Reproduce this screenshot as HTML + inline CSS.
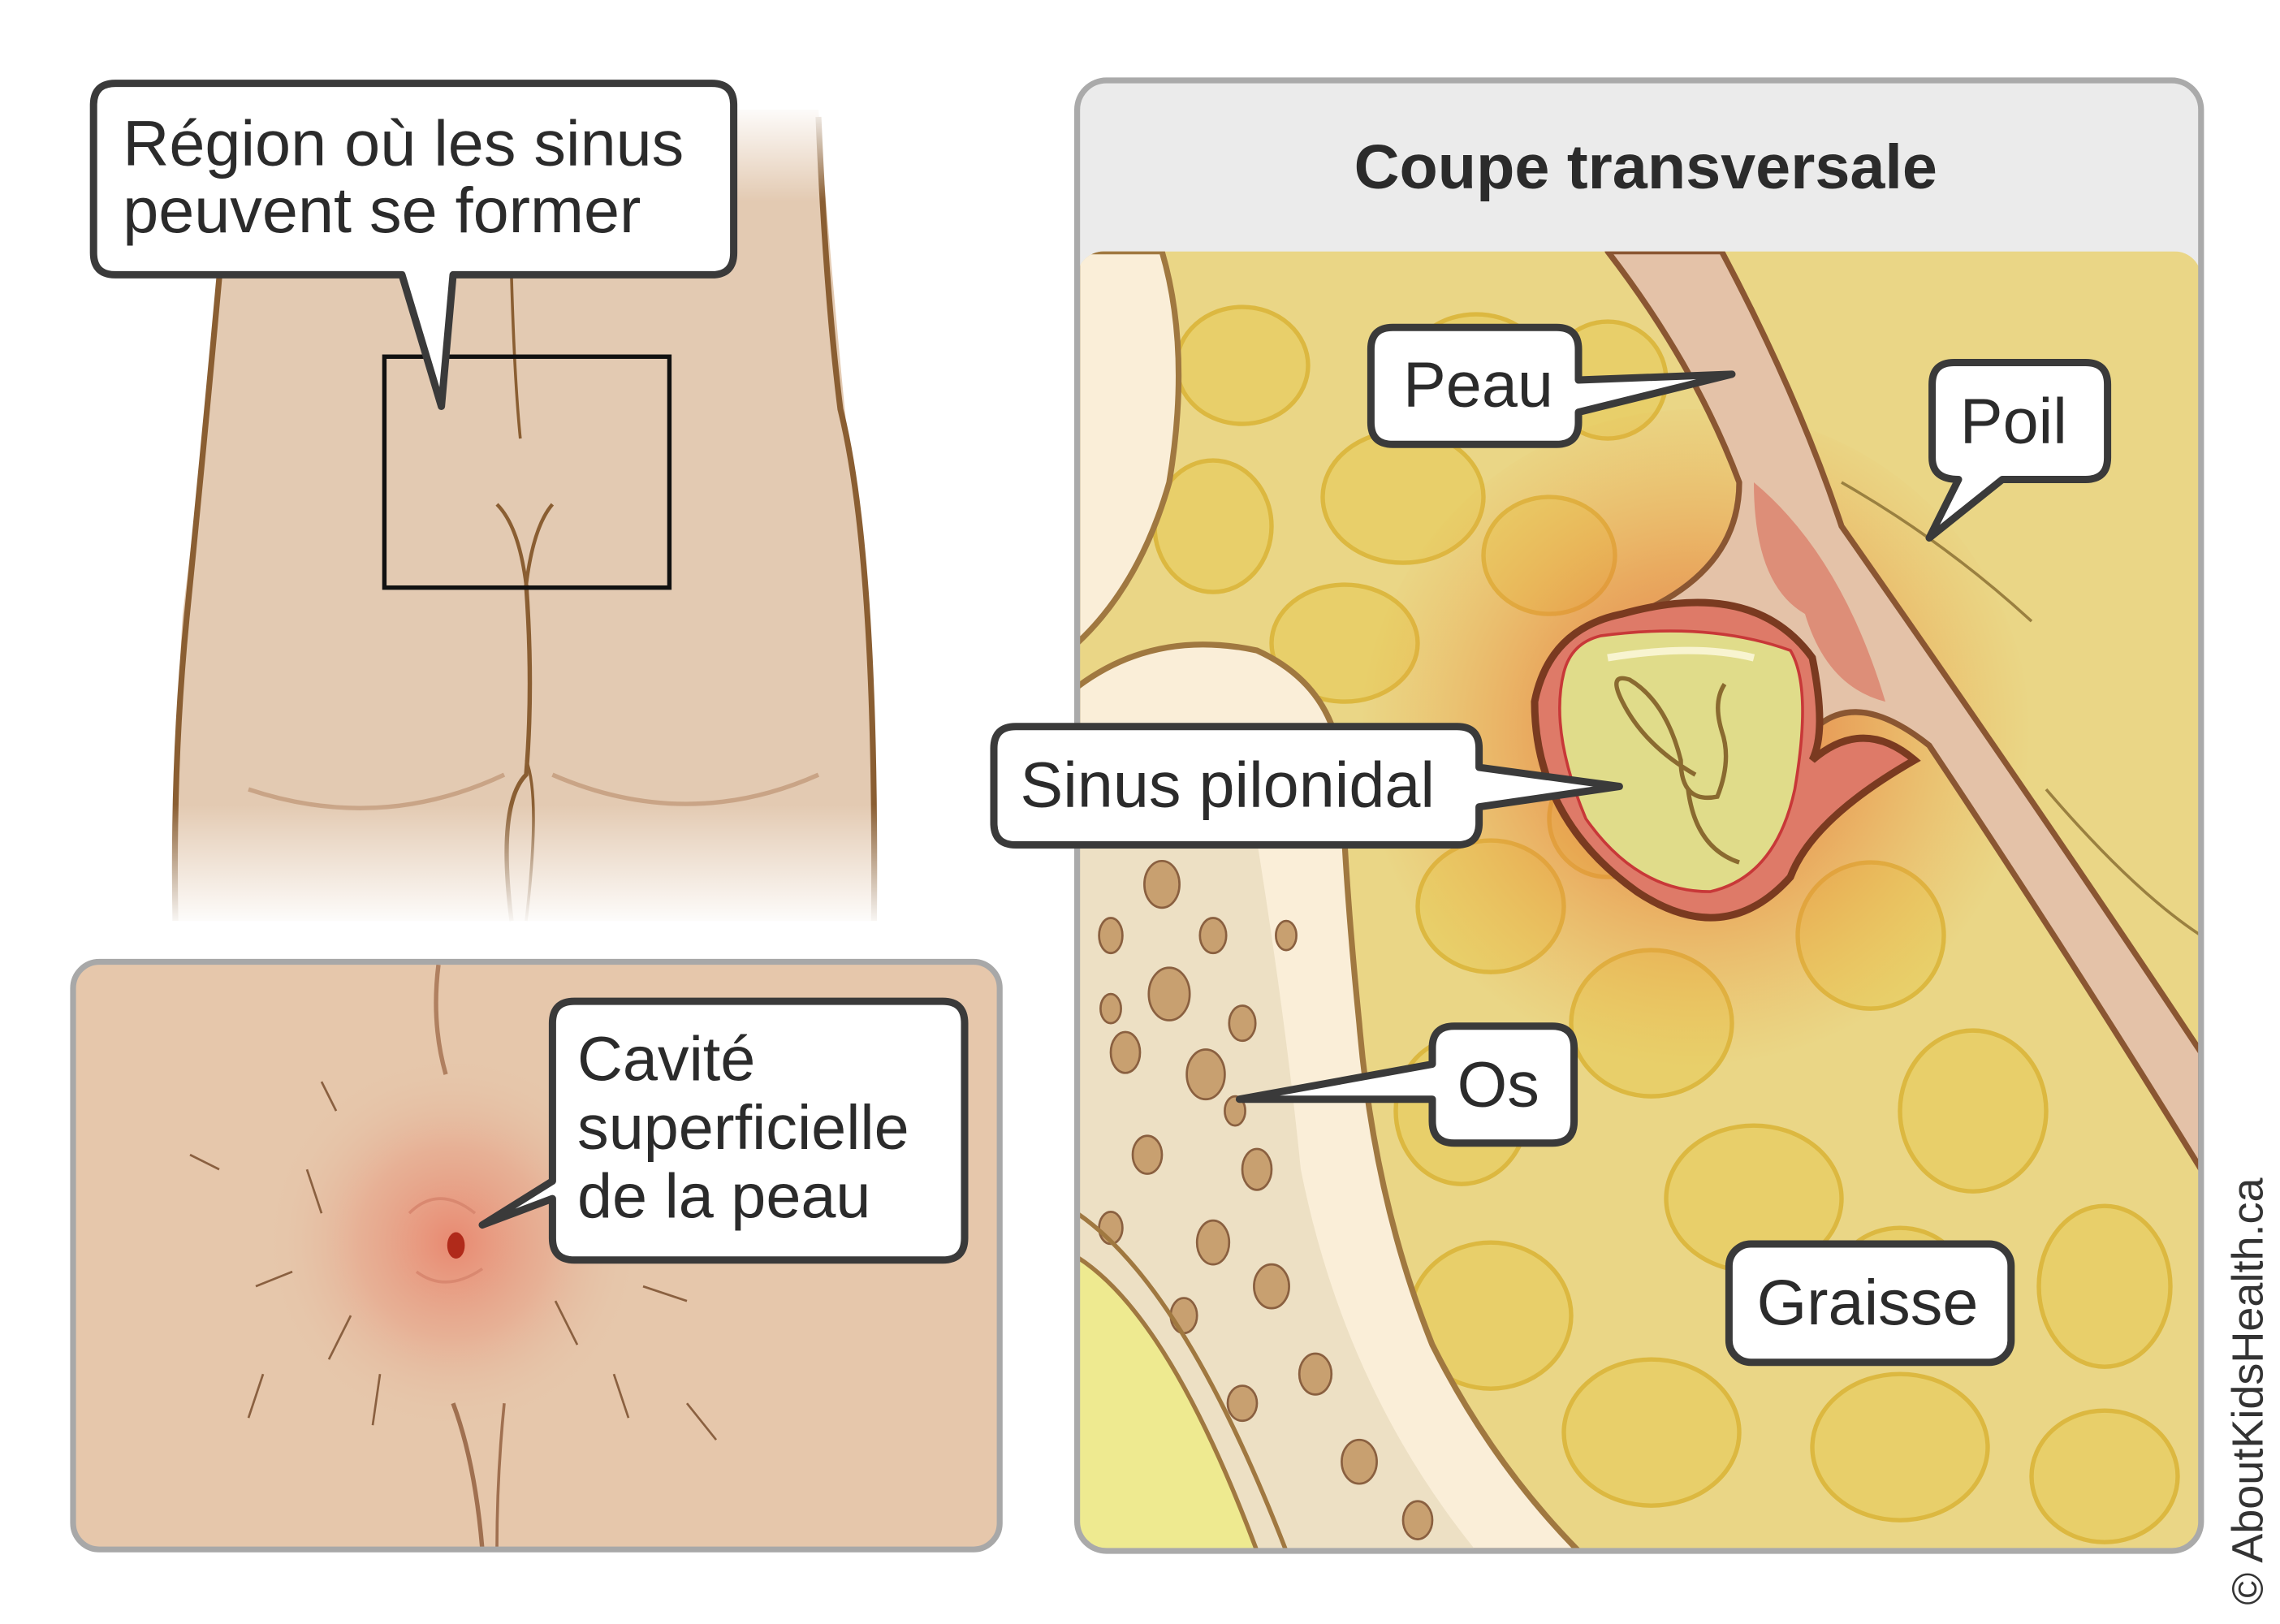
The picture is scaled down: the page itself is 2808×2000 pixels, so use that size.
<!DOCTYPE html>
<html><head><meta charset="utf-8"><style>
html,body{margin:0;padding:0;background:#fff;width:2808px;height:2000px;overflow:hidden}
svg{display:block}
text{font-family:"Liberation Sans",sans-serif;fill:#2b2b2b}
</style></head><body>
<svg width="2808" height="2000" viewBox="0 0 1560 1111" preserveAspectRatio="none" xmlns="http://www.w3.org/2000/svg">
<defs>
<linearGradient id="fade" x1="0" y1="0" x2="0" y2="1">
<stop offset="0" stop-color="#fff" stop-opacity="1"/>
<stop offset="0.12" stop-color="#fff" stop-opacity="0"/>
<stop offset="0.85" stop-color="#fff" stop-opacity="0"/>
<stop offset="1" stop-color="#fff" stop-opacity="1"/>
</linearGradient>
<radialGradient id="glow1" cx="310" cy="850" r="130" gradientUnits="userSpaceOnUse">
<stop offset="0" stop-color="#e8826a" stop-opacity="0.9"/>
<stop offset="0.5" stop-color="#e89a80" stop-opacity="0.5"/>
<stop offset="1" stop-color="#e6c7ab" stop-opacity="0"/>
</radialGradient>
<radialGradient id="glow2" cx="1160" cy="500" r="230" gradientUnits="userSpaceOnUse">
<stop offset="0" stop-color="#e05a3a" stop-opacity="0.85"/>
<stop offset="0.5" stop-color="#e8803a" stop-opacity="0.5"/>
<stop offset="1" stop-color="#f0a040" stop-opacity="0"/>
</radialGradient>
<clipPath id="rp"><rect x="737" y="172" width="769" height="889" rx="18"/></clipPath>
<clipPath id="bp"><rect x="50" y="658" width="634" height="402" rx="18"/></clipPath>
</defs>

<!-- buttocks -->
<path d="M120 75 L560 75 Q570 200 580 300 Q600 420 600 630 L118 630 Q120 500 125 420 Q140 300 150 190 Z" fill="#e3cab2"/>
<path d="M560 80 Q565 200 575 280 Q600 380 598 630" fill="none" stroke="#8a5e32" stroke-width="4"/>
<path d="M150 190 Q140 300 128 420 Q118 520 120 630" fill="none" stroke="#8a5e32" stroke-width="4"/>
<path d="M350 190 Q352 260 356 300" fill="none" stroke="#8a5e32" stroke-width="2"/>
<path d="M340 345 Q355 360 360 400 Q365 360 378 345" fill="none" stroke="#8a5e32" stroke-width="2.5"/>
<path d="M360 400 Q365 470 360 530 Q340 550 350 630" fill="none" stroke="#8a5e32" stroke-width="3"/>
<path d="M360 520 Q370 545 360 630" fill="none" stroke="#8a5e32" stroke-width="2"/>
<path d="M170 540 Q260 570 345 530" fill="none" stroke="#c9a486" stroke-width="3"/>
<path d="M378 530 Q470 570 560 530" fill="none" stroke="#c9a486" stroke-width="3"/>
<rect x="110" y="70" width="500" height="565" fill="url(#fade)"/>
<rect x="263" y="244" width="195" height="158" fill="none" stroke="#111" stroke-width="3"/>

<!-- callout 1 -->
<path d="M79 57 H487 Q502 57 502 72 V173 Q502 188 487 188 H310 L302 278 L275 188 H79 Q64 188 64 173 V72 Q64 57 79 57 Z" fill="#fff" stroke="#3a3a3a" stroke-width="5" stroke-linejoin="round"/>
<text x="84" y="113" font-size="44">Région où les sinus</text>
<text x="84" y="159" font-size="44">peuvent se former</text>

<!-- bottom-left panel -->
<rect x="50" y="658" width="634" height="402" rx="18" fill="#e6c7ab"/>
<g clip-path="url(#bp)">
<circle cx="310" cy="850" r="130" fill="url(#glow1)"/>
<path d="M300 660 Q295 700 305 735" fill="none" stroke="#b08060" stroke-width="3"/>
<path d="M310 960 Q325 1000 330 1060" fill="none" stroke="#a07050" stroke-width="3"/>
<path d="M345 960 Q340 1010 340 1060" fill="none" stroke="#a07050" stroke-width="2"/>
<ellipse cx="312" cy="852" rx="6" ry="9" fill="#b02a1a"/>
<path d="M280 830 Q300 810 325 830 M285 870 Q305 885 330 868" fill="none" stroke="#d98870" stroke-width="2"/>
<g stroke="#8a6040" stroke-width="1.5">
<line x1="220" y1="830" x2="210" y2="800"/><line x1="240" y1="900" x2="225" y2="930"/><line x1="380" y1="890" x2="395" y2="920"/>
<line x1="400" y1="820" x2="420" y2="800"/><line x1="200" y1="870" x2="175" y2="880"/><line x1="420" y1="940" x2="430" y2="970"/>
<line x1="180" y1="940" x2="170" y2="970"/><line x1="260" y1="940" x2="255" y2="975"/><line x1="230" y1="760" x2="220" y2="740"/>
<line x1="440" y1="880" x2="470" y2="890"/><line x1="150" y1="800" x2="130" y2="790"/><line x1="470" y1="960" x2="490" y2="985"/>
</g>
</g>
<rect x="50" y="658" width="634" height="402" rx="18" fill="none" stroke="#a8a8a8" stroke-width="4"/>

<!-- callout cavité -->
<path d="M393 685 H645 Q660 685 660 700 V847 Q660 862 645 862 H393 Q378 862 378 847 V820 L330 838 L378 808 V700 Q378 685 393 685 Z" fill="#fff" stroke="#3a3a3a" stroke-width="5" stroke-linejoin="round"/>
<text x="395" y="739" font-size="43">Cavité</text>
<text x="395" y="786" font-size="43">superficielle</text>
<text x="395" y="833" font-size="43">de la peau</text>

<!-- right panel -->
<rect x="737" y="55" width="769" height="1006" rx="20" fill="#ebebeb"/>
<g clip-path="url(#rp)">
<rect x="737" y="172" width="769" height="889" fill="#ead686"/>
<g fill="#e8cf6a" stroke="#dcb840" stroke-width="3">
<ellipse cx="850" cy="250" rx="45" ry="40"/><ellipse cx="960" cy="340" rx="55" ry="45"/><ellipse cx="830" cy="360" rx="40" ry="45"/>
<ellipse cx="1060" cy="380" rx="45" ry="40"/><ellipse cx="920" cy="440" rx="50" ry="40"/><ellipse cx="1020" cy="620" rx="50" ry="45"/>
<ellipse cx="1130" cy="700" rx="55" ry="50"/><ellipse cx="1280" cy="640" rx="50" ry="50"/><ellipse cx="1000" cy="760" rx="45" ry="50"/>
<ellipse cx="1200" cy="820" rx="60" ry="50"/><ellipse cx="1350" cy="760" rx="50" ry="55"/><ellipse cx="1020" cy="900" rx="55" ry="50"/>
<ellipse cx="1130" cy="980" rx="60" ry="50"/><ellipse cx="1300" cy="990" rx="60" ry="50"/><ellipse cx="1440" cy="880" rx="45" ry="55"/>
<ellipse cx="1440" cy="1010" rx="50" ry="45"/><ellipse cx="1100" cy="560" rx="40" ry="40"/><ellipse cx="1010" cy="250" rx="45" ry="35"/>
<ellipse cx="1300" cy="880" rx="45" ry="40"/><ellipse cx="1100" cy="260" rx="40" ry="40"/>
</g>
<circle cx="1160" cy="510" r="230" fill="url(#glow2)"/>
<path d="M737 172 H795 Q815 240 800 330 Q780 400 737 440 Z" fill="#faeed8" stroke="#a07840" stroke-width="4"/>
<path d="M737 470 Q790 430 860 445 Q915 470 918 530 Q920 600 930 700 Q940 820 980 920 Q1020 1000 1080 1061 H737 Z" fill="#faeed8" stroke="#a07840" stroke-width="4"/>
<path d="M737 560 Q800 560 860 575 Q880 700 890 800 Q920 950 1010 1061 H737 Z" fill="#ede0c4"/>
<g fill="#c8a070" stroke="#8a6040" stroke-width="1.5">
<ellipse cx="795" cy="605" rx="12" ry="16"/><ellipse cx="760" cy="640" rx="8" ry="12"/><ellipse cx="830" cy="640" rx="9" ry="12"/>
<ellipse cx="800" cy="680" rx="14" ry="18"/><ellipse cx="850" cy="700" rx="9" ry="12"/><ellipse cx="770" cy="720" rx="10" ry="14"/>
<ellipse cx="825" cy="735" rx="13" ry="17"/><ellipse cx="785" cy="790" rx="10" ry="13"/><ellipse cx="860" cy="800" rx="10" ry="14"/>
<ellipse cx="830" cy="850" rx="11" ry="15"/><ellipse cx="870" cy="880" rx="12" ry="15"/><ellipse cx="810" cy="900" rx="9" ry="12"/>
<ellipse cx="900" cy="940" rx="11" ry="14"/><ellipse cx="850" cy="960" rx="10" ry="12"/><ellipse cx="930" cy="1000" rx="12" ry="15"/>
<ellipse cx="970" cy="1040" rx="10" ry="13"/><ellipse cx="760" cy="840" rx="8" ry="11"/><ellipse cx="880" cy="640" rx="7" ry="10"/>
<ellipse cx="760" cy="690" rx="7" ry="10"/><ellipse cx="845" cy="760" rx="7" ry="10"/><ellipse cx="790" cy="960" rx="8" ry="11"/>
</g>
<path d="M737 860 Q800 900 860 1061 H737 Z" fill="#eeea90" stroke="#a07840" stroke-width="3"/>
<path d="M737 830 Q810 880 880 1061" fill="none" stroke="#a07840" stroke-width="3"/>
<path d="M1100 172 H1178 Q1230 270 1260 360 Q1400 560 1506 720 V800 Q1420 660 1320 510 Q1270 470 1240 500 Q1200 420 1120 420 Q1190 390 1190 330 Q1160 250 1100 172 Z" fill="#e4c2a8" stroke="#8a5632" stroke-width="4" stroke-linejoin="round"/>
<path d="M1200 330 Q1260 380 1290 480 Q1250 470 1235 420 Q1200 400 1200 330 Z" fill="#d86a58" opacity="0.6"/>
<path d="M1110 420 Q1200 395 1240 450 Q1250 500 1240 520 Q1275 490 1310 520 Q1240 560 1225 600 Q1180 650 1120 610 Q1050 560 1050 480 Q1060 430 1110 420 Z" fill="#de7a68" stroke="#7a3a20" stroke-width="5"/>
<path d="M1095 435 Q1170 425 1225 445 Q1240 470 1228 540 Q1215 600 1170 610 Q1120 610 1085 560 Q1060 500 1070 460 Q1075 440 1095 435 Z" fill="#e0dc8a" stroke="#c83838" stroke-width="2"/>
<path d="M1100 450 Q1160 440 1200 450" stroke="#f8f4d0" stroke-width="5" fill="none"/>
<path d="M1160 530 Q1125 510 1110 480 Q1100 460 1115 465 Q1140 480 1150 520 Q1150 550 1175 545 Q1185 520 1178 500 Q1172 480 1180 468 M1155 540 Q1160 580 1190 590" fill="none" stroke="#8a6a30" stroke-width="3"/>
<path d="M1260 330 Q1330 370 1390 425 M1400 540 Q1460 610 1506 640" fill="none" stroke="#9a8040" stroke-width="2"/>
</g>
<rect x="737" y="55" width="769" height="1006" rx="20" fill="none" stroke="#aaaaaa" stroke-width="4"/>
<text x="1126" y="129" font-size="43" font-weight="bold" text-anchor="middle">Coupe transversale</text>

<g stroke="#3a3a3a" stroke-width="5" fill="#fff" stroke-linejoin="round">
<path d="M953 224 H1065 Q1080 224 1080 239 V260 L1185 256 L1080 282 V289 Q1080 304 1065 304 H953 Q938 304 938 289 V239 Q938 224 953 224 Z"/>
<path d="M1337 248 H1427 Q1442 248 1442 263 V313 Q1442 328 1427 328 H1370 L1320 368 L1340 328 Q1322 328 1322 313 V263 Q1322 248 1337 248 Z"/>
<path d="M695 497 H997 Q1012 497 1012 512 V525 L1108 538 L1012 552 V563 Q1012 578 997 578 H695 Q680 578 680 563 V512 Q680 497 695 497 Z"/>
<path d="M995 702 H1062 Q1077 702 1077 717 V767 Q1077 782 1062 782 H995 Q980 782 980 767 V752 L848 752 L980 728 V717 Q980 702 995 702 Z"/>
<rect x="1183" y="851" width="193" height="81" rx="15"/>
</g>
<text x="960" y="278" font-size="44">Peau</text>
<text x="1341" y="303" font-size="44">Poil</text>
<text x="698" y="552" font-size="44">Sinus pilonidal</text>
<text x="997" y="757" font-size="44">Os</text>
<text x="1202" y="906" font-size="44">Graisse</text>
<text transform="translate(1548,1098) rotate(-90)" font-size="30" style="fill:#333">© AboutKidsHealth.ca</text>
</svg>
</body></html>
